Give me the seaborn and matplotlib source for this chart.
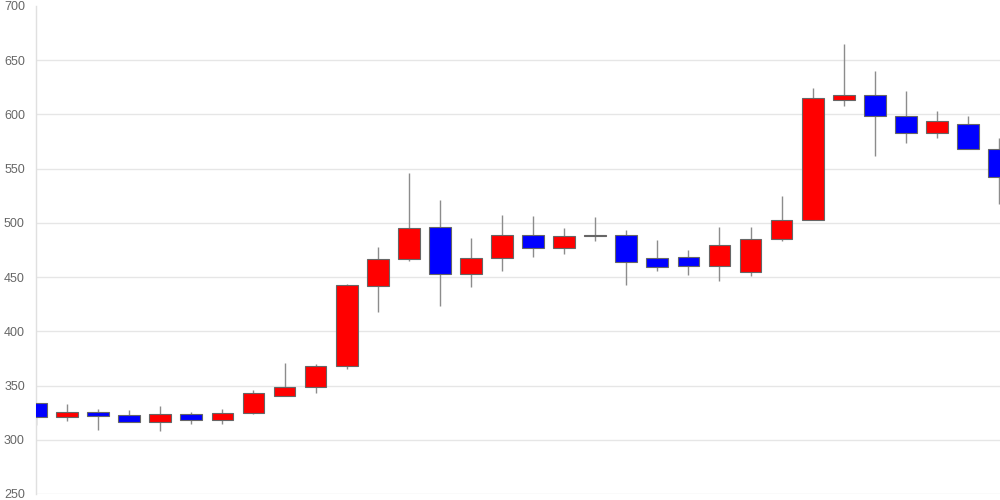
import matplotlib

matplotlib.use("Agg")

import matplotlib.pyplot as plt
import numpy as np
import pandas as pd
import seaborn as sns

# daily OHLC values (red = up, blue = down)
opens = [334, 321, 325.5, 322.5, 316, 323.5, 318, 325, 340, 349, 368, 442, 467, 496, 453, 468,
         489, 477, 488, 489, 468, 469, 460, 455, 485, 503, 613.5, 618, 599, 583, 591, 568]
closes = [321, 325.5, 322, 316, 323.5, 318, 325, 343, 348.5, 368, 442.5, 467, 495, 453, 468, 489,
          477, 488, 489, 464, 459, 460, 480, 485, 503, 615, 618, 599, 583, 594, 568, 542]
highs = [334, 333, 328, 327, 331, 326, 328, 346, 370.5, 370, 443.5, 478, 546, 521, 486, 507,
         506, 495, 505, 493.5, 484, 475, 496, 496, 525, 624, 665, 640, 622, 603, 599, 578]
lows = [314, 317, 309, 316, 308, 315, 315, 324, 340, 343, 365, 418, 465, 423, 441, 456,
        469, 471, 483, 443, 456, 452, 446, 451, 483, 503, 608, 562, 574, 578, 568, 517]
y_ticks = [250, 300, 350, 400, 450, 500, 550, 600, 650, 700]

df = pd.DataFrame({"open": opens, "close": closes, "high": highs, "low": lows})
df["idx"] = np.arange(len(df))
df["up"] = df["close"] >= df["open"]

sns.set_style("white")
plt.rcParams["font.family"] = ["Liberation Sans", "DejaVu Sans"]

fig = plt.figure(figsize=(10, 5), dpi=100)
ax = fig.add_axes([0.036, 0.012, 0.964, 0.976])

ax.vlines(df["idx"], df["low"], df["high"], color="#8c8c8c", linewidth=1, zorder=2)
colors = np.where(df["up"], "#ff0000", "#0000ff")
bottoms = df[["open", "close"]].min(axis=1)
heights = (df["close"] - df["open"]).abs().clip(lower=1)
ax.bar(df["idx"], heights, bottom=bottoms, width=0.7, color=colors,
       edgecolor="#666666", linewidth=0.8, zorder=3)

ax.set_xlim(0, len(df) - 0.97)
ax.set_ylim(250, 700)
ax.set_yticks(y_ticks)
ax.set_xticks([])
ax.grid(axis="y", color="#e6e6e6", linewidth=1)
ax.set_axisbelow(True)
ax.tick_params(axis="y", length=7, color="#e6e6e6", pad=1, labelsize=9, labelcolor="#666666")
# no grid line or tick mark at the very top
ax.get_ygridlines()[-1].set_visible(False)
ax.yaxis.get_major_ticks()[-1].tick1line.set_visible(False)
for side in ["top", "right", "bottom"]:
    ax.spines[side].set_visible(False)
ax.spines["left"].set_color("#e0e0e0")
ax.spines["left"].set_linewidth(1)

fig.savefig("out.png", dpi=100)
plt.close(fig)
